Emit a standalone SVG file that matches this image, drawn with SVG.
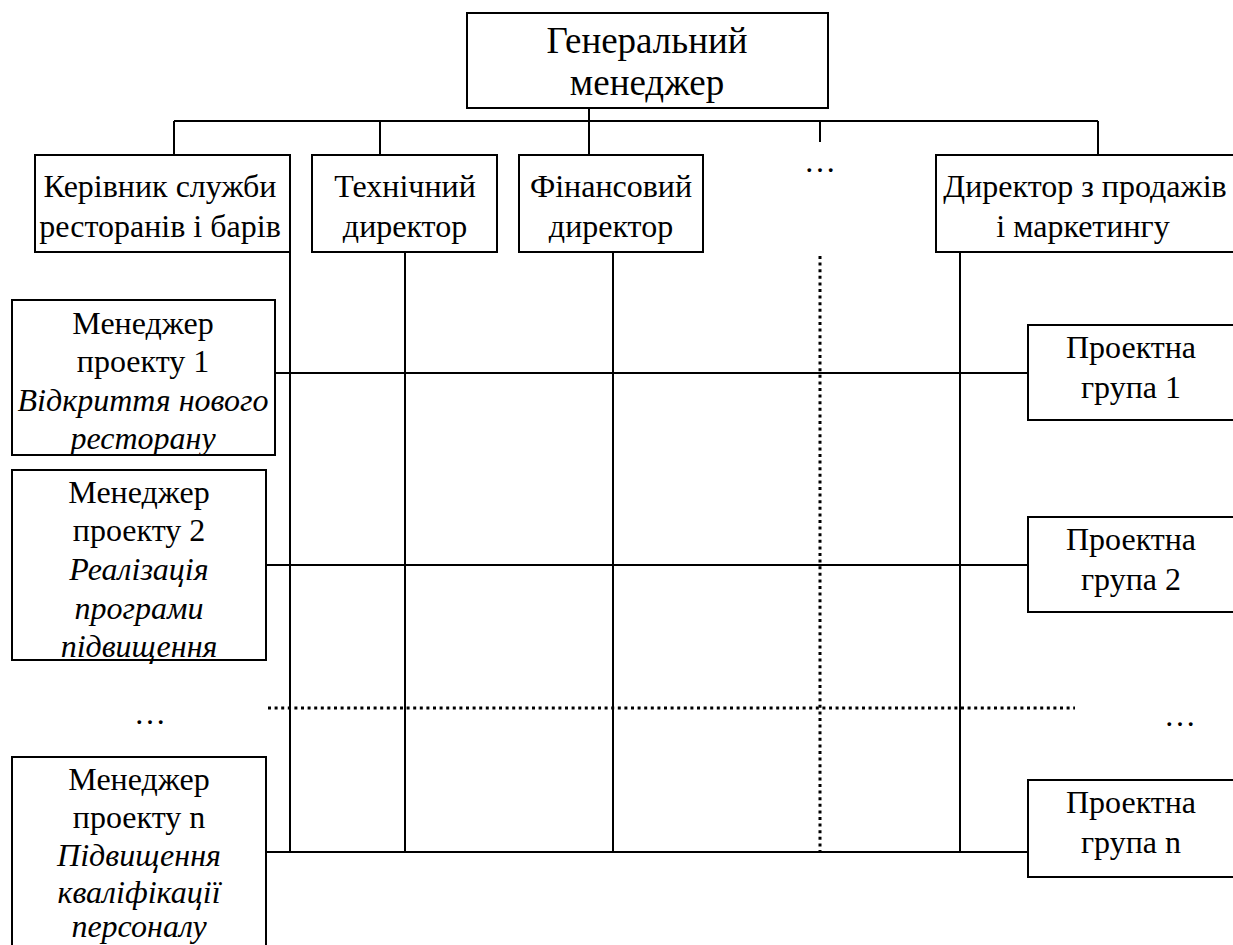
<svg xmlns="http://www.w3.org/2000/svg" width="1233" height="945" viewBox="0 0 1233 945" font-family="Liberation Serif, Times New Roman, DejaVu Serif, serif" font-size="32">
<style>
.box{fill:#fff;stroke:#000;stroke-width:2}
.ln{fill:none;stroke:#000;stroke-width:2}
.dot{fill:none;stroke:#000;stroke-width:3;stroke-dasharray:3 3.6}
text{fill:#000;text-anchor:middle}
.it{font-style:italic}
.big{font-size:37px}
</style>
<rect width="1233" height="945" fill="#fff"/>
<g id="connectors">
<line class="ln" x1="589" y1="108" x2="589" y2="155"/>
<line class="ln" x1="174" y1="121" x2="1098" y2="121"/>
<line class="ln" x1="174" y1="121" x2="174" y2="155"/>
<line class="ln" x1="380" y1="121" x2="380" y2="155"/>
<line class="ln" x1="820" y1="121" x2="820" y2="142"/>
<line class="ln" x1="1098" y1="121" x2="1098" y2="155"/>
<line class="ln" x1="290" y1="252" x2="290" y2="852"/>
<line class="ln" x1="405" y1="252" x2="405" y2="852"/>
<line class="ln" x1="613" y1="252" x2="613" y2="852"/>
<line class="ln" x1="960" y1="252" x2="960" y2="852"/>
<line class="dot" x1="820" y1="256" x2="820" y2="852"/>
<line class="dot" x1="268" y1="708" x2="1075" y2="708"/>
<line class="ln" x1="275" y1="373" x2="1028" y2="373"/>
<line class="ln" x1="266" y1="565" x2="1028" y2="565"/>
<line class="ln" x1="266" y1="852" x2="1028" y2="852"/>
</g>
<g id="gm">
<rect class="box" x="467" y="13" width="361" height="95"/>
<text class="big" x="647" y="53">Генеральний</text>
<text class="big" x="647" y="95">менеджер</text>
</g>
<g id="rest">
<rect class="box" x="35" y="155" width="255" height="97"/>
<text x="160" y="197">Керівник служби</text>
<text x="160" y="237">ресторанів і барів</text>
</g>
<g id="tech">
<rect class="box" x="312" y="155" width="185" height="97"/>
<text x="405" y="197">Технічний</text>
<text x="405" y="237">директор</text>
</g>
<g id="fin">
<rect class="box" x="519" y="155" width="184" height="97"/>
<text x="611" y="197">Фінансовий</text>
<text x="611" y="237">директор</text>
</g>
<g id="ellipsis-top">
<text x="820" y="172">…</text>
</g>
<g id="sales">
<rect class="box" x="936" y="155" width="300" height="97"/>
<text x="1085" y="197">Директор з продажів</text>
<text x="1083" y="237">і маркетингу</text>
</g>
<g id="pm1">
<rect class="box" x="12" y="300" width="263" height="155"/>
<text x="143" y="334">Менеджер</text>
<text x="143" y="372">проекту 1</text>
<text class="it" x="143" y="411">Відкриття нового</text>
<text class="it" x="143" y="449">ресторану</text>
</g>
<g id="pm2">
<rect class="box" x="12" y="470" width="254" height="190"/>
<text x="139" y="503">Менеджер</text>
<text x="139" y="541">проекту 2</text>
<text class="it" x="139" y="580">Реалізація</text>
<text class="it" x="139" y="619">програми</text>
<text class="it" x="139" y="657">підвищення</text>
</g>
<g id="ellipsis-left">
<text x="150" y="724">…</text>
</g>
<g id="pmn">
<rect class="box" x="12" y="757" width="254" height="200"/>
<text x="139" y="790">Менеджер</text>
<text x="139" y="828">проекту n</text>
<text class="it" x="139" y="866">Підвищення</text>
<text class="it" x="139" y="903">кваліфікації</text>
<text class="it" x="139" y="937">персоналу</text>
</g>
<g id="pg1">
<rect class="box" x="1028" y="325" width="210" height="95"/>
<text x="1131" y="358">Проектна</text>
<text x="1131" y="398">група 1</text>
</g>
<g id="pg2">
<rect class="box" x="1028" y="517" width="210" height="95"/>
<text x="1131" y="550">Проектна</text>
<text x="1131" y="590">група 2</text>
</g>
<g id="ellipsis-right">
<text x="1180" y="726">…</text>
</g>
<g id="pgn">
<rect class="box" x="1028" y="780" width="210" height="97"/>
<text x="1131" y="813">Проектна</text>
<text x="1131" y="853">група n</text>
</g>
</svg>
